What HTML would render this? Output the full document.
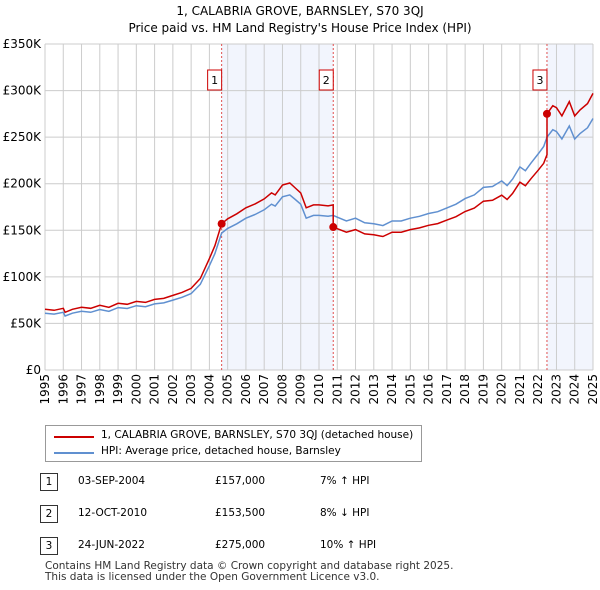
<!DOCTYPE html>
<html><head><meta charset="utf-8"><style>
body{margin:0;background:#fff;font-family:"DejaVu Sans",sans-serif;}
#wrap{position:relative;width:600px;height:590px;}
.t{position:absolute;font-size:12px;color:#000;white-space:nowrap;}
svg text{font-family:"DejaVu Sans",sans-serif;}
</style></head><body><div id="wrap">
<svg id="chart" width="600" height="420" style="position:absolute;left:0;top:0">
<text x="300" y="15" text-anchor="middle" font-size="12">1, CALABRIA GROVE, BARNSLEY, S70 3QJ</text>
<text x="300" y="32" text-anchor="middle" font-size="12">Price paid vs. HM Land Registry's House Price Index (HPI)</text>
<g id="g"></g>
</svg>
<div style="position:absolute;left:45px;top:425px;width:377px;height:37px;border:1px solid #999;box-sizing:border-box;">
<div style="position:absolute;left:8px;top:10px;width:40px;border-top:2px solid #cc0000"></div>
<div class="t" style="left:55px;top:3px;font-size:10.5px">1, CALABRIA GROVE, BARNSLEY, S70 3QJ (detached house)</div>
<div style="position:absolute;left:8px;top:26px;width:40px;border-top:2px solid #6090d0"></div>
<div class="t" style="left:55px;top:19px;font-size:10.5px">HPI: Average price, detached house, Barnsley</div>
</div>
<div id="rows"></div>
<div class="t" style="left:45px;top:561px;font-size:10.5px;color:#333;line-height:11px">Contains HM Land Registry data © Crown copyright and database right 2025.<br>This data is licensed under the Open Government Licence v3.0.</div>
</div>
<script>
const hpiYears=[1995,1995.5,1996,1996.1,1996.5,1997,1997.5,1998,1998.5,1999,1999.5,2000,2000.5,2001,2001.5,2002,2002.5,2003,2003.5,2004,2004.3,2004.67,2005,2005.5,2006,2006.5,2007,2007.4,2007.6,2008,2008.4,2008.7,2009,2009.3,2009.7,2010,2010.5,2010.78,2011,2011.5,2012,2012.5,2013,2013.5,2014,2014.5,2015,2015.5,2016,2016.5,2017,2017.5,2018,2018.5,2019,2019.5,2020,2020.3,2020.6,2021,2021.3,2021.6,2022,2022.3,2022.48,2022.8,2023,2023.3,2023.7,2024,2024.3,2024.7,2025];
const hpiValues=[61,60,62,58,61,63,62,65,63,67,66,69,68,71,72,75,78,82,92,112,125,147,152,157,163,167,172,178,176,186,188,183,178,163,166,166,165,166,164,160,163,158,157,155,160,160,163,165,168,170,174,178,184,188,196,197,203,198,205,218,214,222,232,240,250,258,256,248,262,248,254,260,270];
const saleDates=[2004.67,2010.78,2022.48];
const salePrices=[157,153.5,275];
const saleLabels=["03-SEP-2004","12-OCT-2010","24-JUN-2022"];
const salePriceText=["£157,000","£153,500","£275,000"];
const saleHpiText=["7% ↑ HPI","8% ↓ HPI","10% ↑ HPI"];
const yTicks=[0,50,100,150,200,250,300,350];
const yTickLabels=["£0","£50K","£100K","£150K","£200K","£250K","£300K","£350K"];
const xTicks=[1995,1996,1997,1998,1999,2000,2001,2002,2003,2004,2005,2006,2007,2008,2009,2010,2011,2012,2013,2014,2015,2016,2017,2018,2019,2020,2021,2022,2023,2024,2025];

const L=45,R=593,T=44,B=370;
const X=t=>L+(t-1995)*(R-L)/30, Y=v=>B-v*(B-T)/350;
const NS="http://www.w3.org/2000/svg", g=document.getElementById('g');
function mk(tag,a){const e=document.createElementNS(NS,tag);for(const k in a)e.setAttribute(k,a[k]);g.appendChild(e);return e;}
function hpiAt(t){for(let i=1;i<hpiYears.length;i++){if(t<=hpiYears[i]){const f=(t-hpiYears[i-1])/(hpiYears[i]-hpiYears[i-1]);return hpiValues[i-1]+f*(hpiValues[i]-hpiValues[i-1]);}}return hpiValues[hpiValues.length-1];}
let s=mk('rect',{x:X(saleDates[0]),y:T,width:X(saleDates[1])-X(saleDates[0]),height:B-T,fill:'#f2f5fd'});

s=mk('rect',{x:X(saleDates[2]),y:T,width:R-X(saleDates[2]),height:B-T,fill:'#f2f5fd'});

yTicks.forEach((v,i)=>{let l=mk('line',{x1:L,x2:R,y1:Y(v),y2:Y(v),stroke:'#ccc'});

let t=mk('text',{x:L-4,y:Y(v)+4,'text-anchor':'end','font-size':12});t.textContent=yTickLabels[i];
});
xTicks.forEach(v=>{let l=mk('line',{x1:X(v),x2:X(v),y1:T,y2:B,stroke:'#ccc'});

let t=mk('text',{x:X(v)+4,y:B+4,'text-anchor':'end','font-size':12,transform:`rotate(-90 ${X(v)+4} ${B+4})`});t.textContent=v;
});
saleDates.forEach((d,i)=>{let l=mk('line',{x1:X(d),x2:X(d),y1:T,y2:B,stroke:'#e05050','stroke-dasharray':'2,2'});

let r=mk('rect',{x:X(d)-14,y:70,width:14,height:20,fill:'#fff',stroke:'#cc0000'});

let t=mk('text',{x:X(d)-7,y:84,'text-anchor':'middle','font-size':11});t.textContent=i+1;
});
let hp=hpiYears.map((t,i)=>X(t).toFixed(1)+','+Y(hpiValues[i]).toFixed(1)).join(' ');
let hl=mk('polyline',{points:hp,fill:'none',stroke:'#6090d0','stroke-width':1.5});

let pts=[];
function ratioFor(t){let k=0;for(let i=0;i<saleDates.length;i++)if(t>=saleDates[i])k=i;return salePrices[k]/hpiAt(saleDates[k]);}
hpiYears.forEach((t,i)=>{
 saleDates.forEach((d,k)=>{if(t>d&&hpiYears[i-1]<d){const prev=k===0?salePrices[0]/hpiAt(d):salePrices[k-1]/hpiAt(saleDates[k-1]);pts.push([d,hpiAt(d)*prev]);pts.push([d,salePrices[k]]);}});
 if(saleDates.includes(t)){const k=saleDates.indexOf(t);const prev=k===0?salePrices[0]/hpiAt(t):salePrices[k-1]/hpiAt(saleDates[k-1]);pts.push([t,hpiAt(t)*prev]);pts.push([t,salePrices[k]]);}
 else pts.push([t,hpiValues[i]*ratioFor(t)]);});
let pl=mk('polyline',{points:pts.map(p=>X(p[0]).toFixed(1)+','+Y(p[1]).toFixed(1)).join(' '),fill:'none',stroke:'#cc0000','stroke-width':1.5});

saleDates.forEach((d,i)=>{let c=mk('circle',{cx:X(d),cy:Y(salePrices[i]),r:4,fill:'#cc0000'});
});
const rows=document.getElementById('rows');
saleDates.forEach((d,i)=>{const y=473+i*32;
 const b=document.createElement('div');b.className='t';b.style.cssText=`left:40px;top:${y}px;width:18px;height:18px;border:1px solid #333;box-sizing:border-box;text-align:center;line-height:16px;font-size:10.5px`;b.textContent=i+1;
 rows.appendChild(b);
 [[78,saleLabels[i]],[215,salePriceText[i]],[320,saleHpiText[i]]].forEach(([x,s],j)=>{const e=document.createElement('div');e.className='t';e.style.cssText=`left:${x}px;top:${y+2}px;font-size:10.5px`;e.textContent=s;
 rows.appendChild(e);});});
</script></body></html>
